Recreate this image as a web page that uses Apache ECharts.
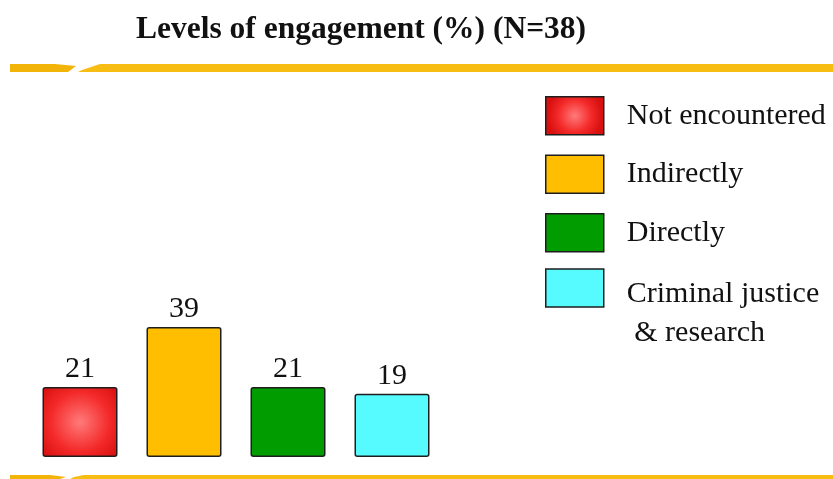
<!DOCTYPE html>
<html>
<head>
<meta charset="utf-8">
<script src="https://cdn.jsdelivr.net/npm/echarts@6/dist/echarts.min.js"></script>
<style>
  html, body { margin: 0; padding: 0; background: #ffffff; }
  #chart { width: 833px; height: 479px; }
</style>
</head>
<body>
<div id="chart"></div>
<script>
// Engagement levels, percent of respondents (N=38)
const categories = ['Not encountered', 'Indirectly', 'Directly', 'Criminal justice\n & research'];
const values = [21, 39, 21, 19];
const titleText = 'Levels of engagement (%) (N=38)';

const SERIF = '"Liberation Serif", "Times New Roman", serif';
const GOLD = '#f8bd12';

const fills = [
  { type: 'radial', x: 0.5, y: 0.5, r: 0.7,
    colorStops: [{ offset: 0, color: '#ff7a7a' }, { offset: 0.6, color: '#f42a2a' }, { offset: 1, color: '#d81010' }] },
  '#ffbf00',
  '#009c00',
  '#55fbff'
];

// one series per category so each gets its own legend entry
const series = categories.map((name, i) => ({
  type: 'bar',
  name: name,
  data: categories.map((_, j) => (j === i ? values[i] : '-')),
  barWidth: 75,
  barGap: '-100%',
  itemStyle: {
    color: fills[i],
    borderColor: '#1e1e1e',
    borderWidth: 1.5,
    borderRadius: 2
  },
  label: {
    show: true,
    position: 'top',
    distance: 3,
    fontFamily: SERIF,
    fontSize: 30,
    color: '#111'
  }
}));

const legendText = { fontFamily: SERIF, fontSize: 30, color: '#111', lineHeight: 39 };

const legendBase = {
  orient: 'vertical',
  left: 545,
  padding: 0,
  itemWidth: 58,
  itemHeight: 38,
  itemGap: 19,
  icon: 'rect',
  itemStyle: { borderColor: '#1e1e1e', borderWidth: 1.5 }
};

const chart = echarts.init(document.getElementById('chart'));
chart.setOption({
  backgroundColor: '#ffffff',
  animation: false,
  title: {
    text: titleText,
    left: 131,
    top: 9,
    textStyle: { fontFamily: SERIF, fontWeight: 'bold', fontSize: 31.5, color: '#111' }
  },
  legend: [
    Object.assign({}, legendBase, {
      top: 96,
      data: categories.slice(0, 3),
      textStyle: Object.assign({ padding: [0, 0, 0, 18] }, legendText)
    }),
    // two-line entry: the first line sits level with the swatch, the second hangs below
    Object.assign({}, legendBase, {
      top: 244,
      data: [categories[3]],
      formatter: (name) => {
        const lines = name.split('\n');
        return '{s| }\n' + lines.map((l) => '{a|' + l + '}').join('\n');
      },
      textStyle: {
        padding: [0, 0, 0, 18],
        rich: {
          s: { fontSize: 10, lineHeight: 51 },
          a: legendText
        }
      }
    })
  ],
  grid: { left: 28, width: 416, top: 257, bottom: 22 },
  xAxis: { type: 'category', data: categories, show: false },
  yAxis: { type: 'value', min: 0, max: 60, show: false },
  series: series,
  graphic: [
    // top rule with a slanted break
    { type: 'polygon', shape: { points: [[10, 64], [55, 64], [76, 66], [68, 72], [10, 72]] }, style: { fill: '#f3b40a' }, silent: true },
    { type: 'polygon', shape: { points: [[82, 70], [100, 64], [833, 64], [833, 72], [78, 72]] }, style: { fill: GOLD }, silent: true },
    // bottom rule
    { type: 'polygon', shape: { points: [[10, 475], [50, 475], [66, 477], [60, 479], [10, 479]] }, style: { fill: '#f3b40a' }, silent: true },
    { type: 'polygon', shape: { points: [[74, 477], [84, 475], [833, 475], [833, 479], [70, 479]] }, style: { fill: GOLD }, silent: true }
  ]
});
</script>
</body>
</html>
